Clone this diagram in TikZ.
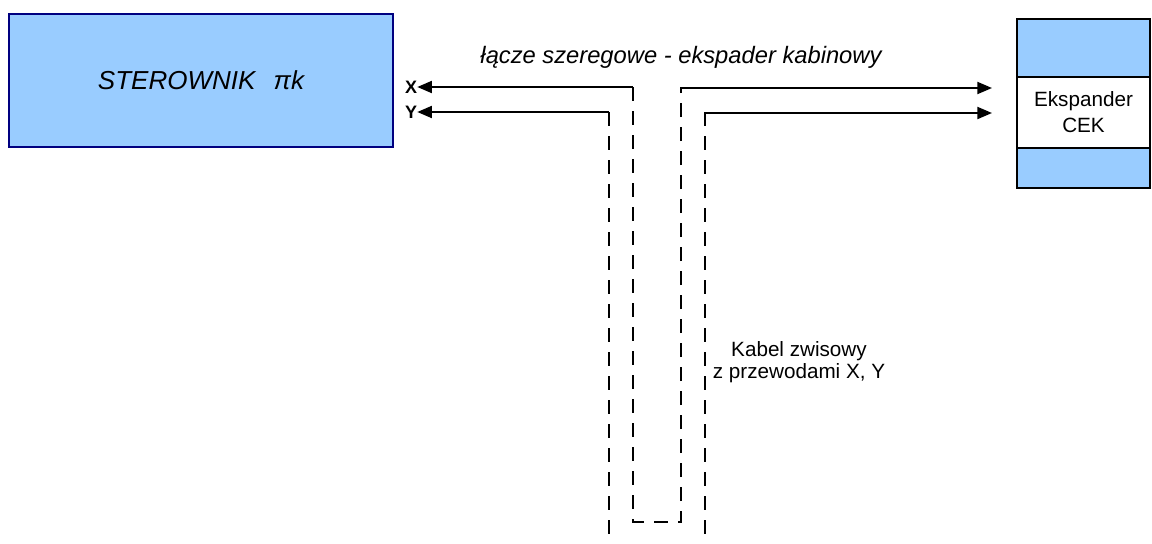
\documentclass[tikz,border=0pt]{standalone}
\usepackage{fontspec}
\setmainfont{Liberation Sans}
\usetikzlibrary{arrows.meta}
\definecolor{boxblue}{HTML}{99CCFF}
\definecolor{navyb}{HTML}{000080}
\begin{document}
\begin{tikzpicture}[x=0.75pt,y=-0.75pt,
  wire/.style={line width=1.5pt},
  dashwire/.style={line width=1.5pt, dash pattern=on 10.5pt off 7.5pt},
  tipend/.style={-{Triangle[length=11pt,width=9pt]}},
  lbl/.style={inner sep=0pt, font=\fontsize{13.5}{16}\selectfont\bfseries},
  ]
\useasboundingbox (0,0) rectangle (1152,543);
% controller box
\node[draw=navyb, line width=1.5pt, fill=boxblue, minimum width=288pt, minimum height=99.75pt, inner sep=0pt,
  font=\fontsize{19.5}{23}\selectfont\itshape] (ster) at (201,80.5) {STEROWNIK\hspace{0.7em}πk};
% expander box
\node[draw=black, line width=2.2pt, fill=boxblue, minimum width=99.75pt, minimum height=126.75pt, inner sep=0pt] (cek) at (1083.5,103.5) {};
\node[draw=black, line width=1.5pt, fill=white, minimum width=99.75pt, minimum height=53.25pt, inner sep=0pt,
  align=center, font=\fontsize{15.5}{19.5}\selectfont] (band) at (1083.5,112.5) {Ekspander\\CEK};
% title
\node[inner sep=0pt, font=\fontsize{17.8}{21}\selectfont\itshape] (title) at (681,57) {łącze szeregowe - ekspader kabinowy};
% labels
\node[lbl] (xlab) at (411,87) {X};
\node[lbl] (ylab) at (411,112) {Y};
% cable label
\node[inner sep=0pt, align=center, font=\fontsize{15.5}{16.5}\selectfont] (kabel) at (799,362) {Kabel zwisowy\\z przewodami X, Y};
% coordinates
\coordinate (xl) at (633,87);
\coordinate (xlb) at (633,522);
\coordinate (xrb) at (681,522);
\coordinate (xr) at (681,87);
\coordinate (xin) at (992,88);
\coordinate (yl) at (609,112);
\coordinate (ylb) at (609,543);
\coordinate (yr) at (705,112);
\coordinate (yrb) at (705,543);
\coordinate (yin) at (992,113);
% solid wires
\draw[wire, tipend] (xl) -- (xlab.east);
\draw[wire, tipend] (yl) -- (ylab.east);
\draw[wire, tipend] (xr) -- (xr |- xin) -- (xin);
\draw[wire, tipend] (yr) -- (yr |- yin) -- (yin);
% dashed cable
\draw[dashwire] (xl) -- (xlb) -- (xrb) -- (xr);
\draw[dashwire] (yl) -- (ylb);
\draw[dashwire] (yr) -- (yrb);
\end{tikzpicture}
\end{document}
